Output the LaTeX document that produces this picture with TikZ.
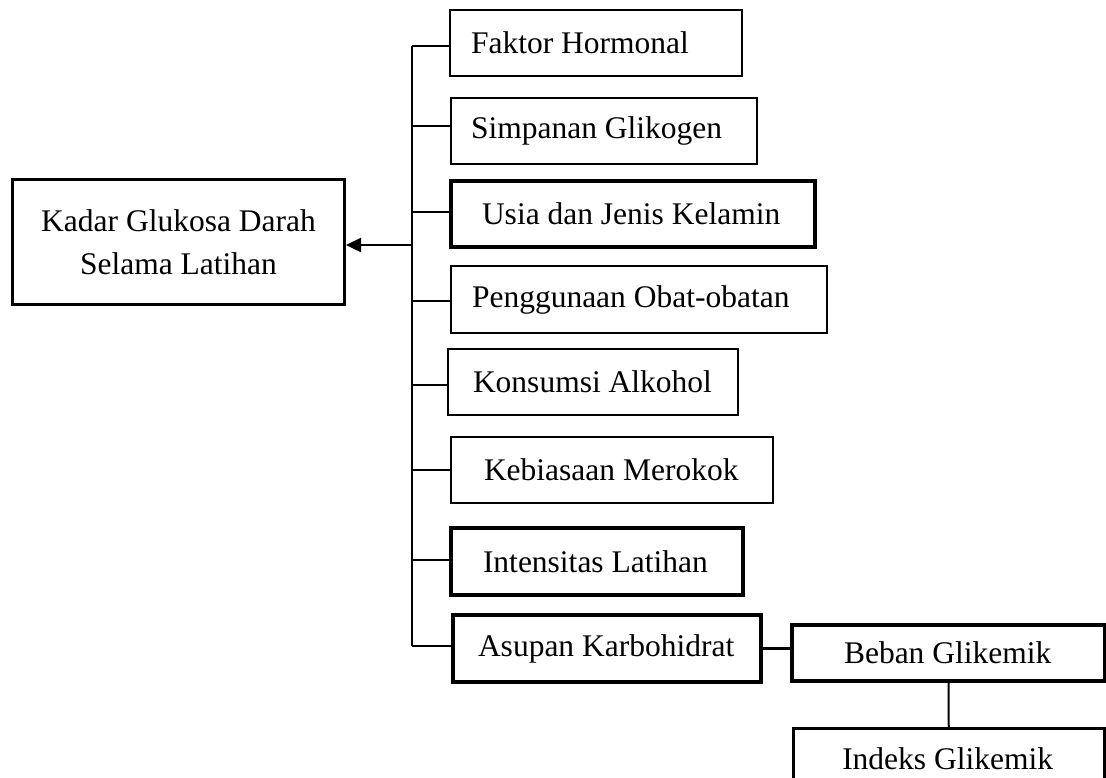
\documentclass[tikz,border=0pt]{standalone}
\usepackage{fontspec}
\setmainfont{Liberation Serif}
\usetikzlibrary{arrows.meta}
\begin{document}
\begin{tikzpicture}[x=1pt,y=-1pt,
  box/.style={draw, rectangle, anchor=north west, align=flush left, inner xsep=0pt, inner ysep=0pt,
    font=\fontsize{31.5}{38}\selectfont, line width=2pt},
  thickbox/.style={box, line width=4pt},
  conn/.style={line width=2pt},
]
\path[use as bounding box, clip] (0,0) rectangle (1106,778);

% main box
\node[draw, rectangle, anchor=north west, line width=3pt, minimum width=332pt, minimum height=125pt,
  align=center, font=\fontsize{31.5}{43}\selectfont] (main) at (11,178) {Kadar Glukosa Darah\\Selama Latihan};

% factor boxes
\node[box, text width=292pt, minimum height=66pt] (faktor) at (449,9) {\hspace*{21pt}Faktor Hormonal};
\node[box, text width=306pt, minimum height=66pt] (simpanan) at (450,97) {\hspace*{20pt}Simpanan Glikogen};
\node[thickbox, text width=364pt, minimum height=66pt] (usia) at (449,179) {\hspace*{31pt}Usia dan Jenis Kelamin};
\node[box, text width=376pt, minimum height=67pt] (obat) at (450,265) {\hspace*{21pt}Penggunaan Obat-obatan};
\node[box, text width=290pt, minimum height=66pt] (alkohol) at (447,348) {\hspace*{25pt}Konsumsi Alkohol};
\node[box, text width=322pt, minimum height=66pt] (rokok) at (450,436) {\hspace*{33pt}Kebiasaan Merokok};
\node[thickbox, text width=292pt, minimum height=67pt] (intens) at (449,526) {\hspace*{32pt}Intensitas Latihan};
\node[thickbox, text width=308pt, minimum height=67pt] (asupan) at (451,613) {\hspace*{25pt}Asupan Karbohidrat};
\node[thickbox, text width=313pt, minimum height=56pt] (beban) at (790,623) {\hspace*{52pt}Beban Glikemik};
\node[box, line width=2.5pt, text width=311pt, minimum height=60pt] (indeks) at (792,727) {\hspace*{49pt}Indeks Glikemik};

% spine coordinates
\coordinate (s1) at (412,46);
\coordinate (s2) at (412,126);
\coordinate (s3) at (412,212);
\coordinate (s4) at (412,301);
\coordinate (s5) at (412,385);
\coordinate (s6) at (412,470);
\coordinate (s7) at (412,560);
\coordinate (s8) at (412,646);
\coordinate (sa) at (412,245);

\draw[conn] (s1) -- (s8);
\draw[conn] (s1) -- (s1 -| faktor.west);
\draw[conn] (s2) -- (s2 -| simpanan.west);
\draw[conn] (s3) -- (s3 -| usia.west);
\draw[conn] (s4) -- (s4 -| obat.west);
\draw[conn] (s5) -- (s5 -| alkohol.west);
\draw[conn] (s6) -- (s6 -| rokok.west);
\draw[conn] (s7) -- (s7 -| intens.west);
\draw[conn] (s8) -- (s8 -| asupan.west);

\draw[line width=2.5pt, -{Triangle[length=15pt,width=14pt]}] (sa) -- (sa -| main.east);

\draw[line width=2.5pt] (asupan.east) -- (asupan.east -| beban.west);
\draw[conn] (beban.south) -- (indeks.north);
\end{tikzpicture}
\end{document}
